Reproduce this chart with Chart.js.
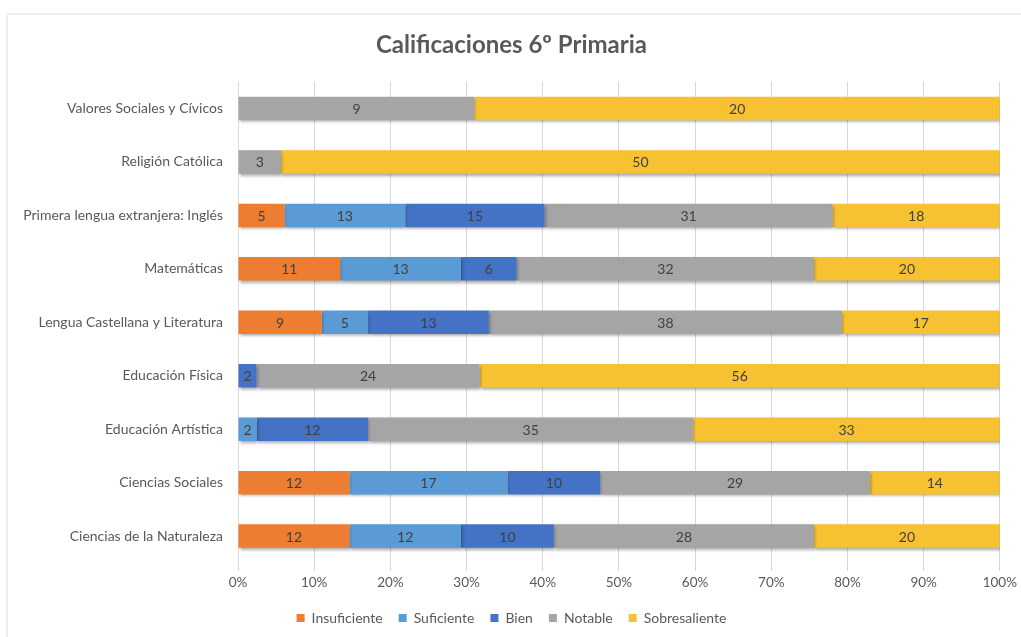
<!DOCTYPE html>
<html>
<head>
<meta charset="utf-8">
<script src="https://cdn.jsdelivr.net/npm/chart.js@4"></script>
<style>
  html, body { margin: 0; padding: 0; background: #fff; }
  #marco {
    position: absolute; left: 6px; top: 13px; width: 1015px; height: 624px;
    border-top: 2px solid #efefef; border-left: 2px solid #efefef; box-sizing: border-box;
  }
  #grafico { display: block; }
</style>
</head>
<body>
<div id="marco"><canvas id="grafico" width="1013" height="622"></canvas></div>
<script>
// Asignaturas (de arriba a abajo)
const asignaturas = [
    'Valores Sociales y Cívicos',
    'Religión Católica',
    'Primera lengua extranjera: Inglés',
    'Matemáticas',
    'Lengua Castellana y Literatura',
    'Educación Física',
    'Educación Artística',
    'Ciencias Sociales',
    'Ciencias de la Naturaleza'
];

// Número de alumnos por calificación
const insuficiente  = [0, 0, 5, 11, 9, 0, 0, 12, 12];
const suficiente    = [0, 0, 13, 13, 5, 0, 2, 17, 12];
const bien          = [0, 0, 15, 6, 13, 2, 12, 10, 10];
const notable       = [9, 3, 31, 32, 38, 24, 35, 29, 28];
const sobresaliente = [20, 50, 18, 20, 17, 56, 33, 14, 20];

const nombresSeries = ['Insuficiente', 'Suficiente', 'Bien', 'Notable', 'Sobresaliente'];
const coloresSeries = ['#ED7D31', '#5B9BD5', '#4472C4', '#A5A5A5', '#F6C232'];

const series = [insuficiente, suficiente, bien, notable, sobresaliente];
const totales = asignaturas.map((_, i) => series.reduce((s, serie) => s + serie[i], 0));

const datasets = series.map((serie, k) => ({
    label: nombresSeries[k],
    backgroundColor: coloresSeries[k],
    borderWidth: 0,
    data: serie.map((v, i) => v / totales[i] * 100),
    cuentas: serie
}));

// Sombra suave bajo las barras, como en Excel
const sombraBarras = {
    id: 'sombraBarras',
    beforeDatasetsDraw(chart) {
        const ctx = chart.ctx;
        ctx.save();
        ctx.shadowColor = 'rgba(0,0,0,0.35)';
        ctx.shadowBlur = 3;
        ctx.shadowOffsetX = 1;
        ctx.shadowOffsetY = 2;
    },
    afterDatasetsDraw(chart) {
        chart.ctx.restore();
    }
};

// Etiquetas con el número de alumnos en cada segmento
const etiquetasValores = {
    id: 'etiquetasValores',
    afterDatasetsDraw(chart) {
        const ctx = chart.ctx;
        ctx.save();
        ctx.font = '14px Lato';
        ctx.fillStyle = '#404040';
        ctx.textAlign = 'center';
        ctx.textBaseline = 'middle';
        chart.data.datasets.forEach((ds, k) => {
            chart.getDatasetMeta(k).data.forEach((barra, i) => {
                const valor = ds.cuentas[i];
                if (!valor) return;
                const x = (barra.x + barra.base) / 2;
                ctx.fillText(String(valor), x, barra.y + 1);
            });
        });
        ctx.restore();
    }
};

new Chart(document.getElementById('grafico'), {
    type: 'bar',
    data: { labels: asignaturas, datasets: datasets },
    options: {
        indexAxis: 'y',
        responsive: false,
        animation: false,
        layout: { padding: { left: 0, right: 6, top: 0, bottom: 2 } },
        datasets: { bar: { categoryPercentage: 1, barPercentage: 0.44 } },
        scales: {
            x: {
                stacked: true,
                min: 0,
                max: 100,
                ticks: {
                    stepSize: 10,
                    color: '#595959',
                    font: { family: 'Lato', size: 13.5 },
                    padding: 4,
                    callback: v => v + '%'
                },
                grid: { color: '#D9D9D9', tickLength: 8, tickColor: '#D9D9D9' },
                border: { display: false }
            },
            y: {
                stacked: true,
                ticks: { color: '#595959', font: { family: 'Lato', size: 14 }, padding: 7 },
                grid: { display: false },
                border: { display: false },
                afterFit(scale) { scale.width = 230; }
            }
        },
        plugins: {
            title: {
                display: true,
                text: 'Calificaciones 6º Primaria',
                color: '#595959',
                font: { family: 'Lato', size: 24, weight: 'bold' },
                padding: { top: 16, bottom: 22 }
            },
            legend: {
                position: 'bottom',
                labels: {
                    color: '#595959',
                    font: { family: 'Lato', size: 14 },
                    boxWidth: 8,
                    boxHeight: 8,
                    padding: 16
                }
            },
            tooltip: { enabled: false }
        }
    },
    plugins: [sombraBarras, etiquetasValores]
});
</script>
</body>
</html>
